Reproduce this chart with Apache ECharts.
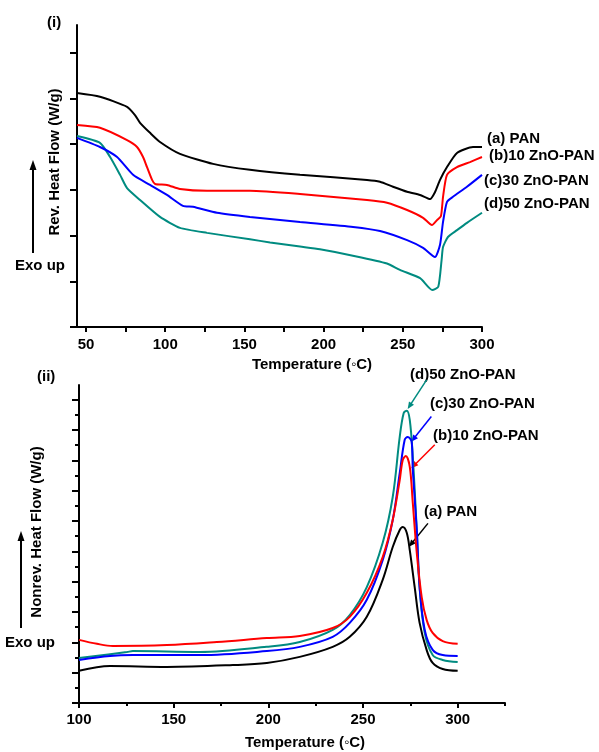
<!DOCTYPE html>
<html><head><meta charset="utf-8">
<script src="https://cdn.jsdelivr.net/npm/echarts@6/dist/echarts.min.js"></script>
<style>html,body{margin:0;padding:0;background:#fff}#c{width:599px;height:752px}</style>
</head><body><div id="c"></div>
<script>
// ---------- data ----------
const seriesNames = ['(a) PAN', '(b)10 ZnO-PAN', '(c)30 ZnO-PAN', '(d)50 ZnO-PAN'];
const colors = ['#000000', '#ff0000', '#0000ff', '#008b80'];

// Panel (i): reversing heat flow (arbitrary units)
const revT_a = [44.3,58.8,75.9,80.9,84.1,90.4,96.7,109.3,130.2,153.5,185.1,227.4,235.6,243.8,252.7,260.9,267.2,270.3,273.5,277.9,284.2,294.3,300];
const revV_a = [5.12,5.04,4.82,4.64,4.47,4.25,4.05,3.79,3.57,3.44,3.33,3.22,3.18,3.07,2.96,2.89,2.80,2.95,3.22,3.50,3.81,3.94,3.94];
const revT_b = [44.3,58.8,75.9,82.2,86.0,88.5,91.7,93.6,101.1,109.3,126.4,153.5,185.1,227.4,240.0,252.7,262.8,268.4,271.6,274.1,275.4,277.9,284.2,292.4,300];
const revV_b = [4.42,4.36,4.09,3.94,3.72,3.50,3.22,3.13,3.11,3.02,2.98,2.98,2.91,2.78,2.72,2.56,2.39,2.23,2.34,2.43,2.85,3.33,3.50,3.61,3.72];
const revT_c = [44.3,58.8,69.6,79.7,90.4,101.1,111.2,117.5,132.7,153.5,185.1,218.6,235.6,252.7,262.8,270.3,273.5,275.4,277.9,281.7,290.5,300];
const revV_c = [4.14,3.94,3.72,3.33,3.11,2.89,2.65,2.63,2.50,2.41,2.30,2.19,2.10,1.90,1.73,1.53,1.80,2.30,2.74,2.85,3.07,3.33];
const revT_d = [44.3,58.8,65.2,71.5,75.9,84.1,96.7,109.3,126.4,153.5,166.2,185.1,197.7,220.0,240.0,248.2,260.9,268.6,272.4,274.5,275.4,278.5,284.2,290.5,300];
const revV_d = [4.18,4.03,3.72,3.33,3.04,2.78,2.41,2.17,2.06,1.92,1.85,1.76,1.70,1.55,1.39,1.25,1.07,0.81,0.88,1.47,1.75,1.97,2.12,2.28,2.50];

// Panel (ii): non-reversing heat flow (arbitrary units)
const nonT_a = [100,116.4,146.4,181.3,199.2,216.6,234,243,252,260.4,265.7,269.4,271,273.1,274.7,277.3,279.9,283.6,286.8,292.1,300];
const nonV_a = [1.06,1.22,1.19,1.25,1.32,1.52,1.85,2.18,2.84,4.06,5.14,5.70,5.80,5.61,5.04,3.82,2.64,1.75,1.32,1.12,1.06];
const nonT_b = [100,109.5,117.9,146.4,172.8,199.2,216.6,234,243,252,260.4,265.7,269.4,271,272.6,274.7,276.3,278.4,281,283.6,286.8,292.1,300];
const nonV_b = [2.08,1.95,1.88,1.91,2.01,2.14,2.21,2.47,2.84,3.63,4.81,6.03,7.35,8.01,8.14,7.78,6.59,4.95,3.49,2.74,2.31,2.04,1.95];
const nonT_c = [100,116.4,128.5,163.9,199.2,216.6,234,243,252,260.4,265.7,269.4,272,273.6,275.7,276.3,278.4,279.9,282.6,286.8,292.1,300];
const nonV_c = [1.42,1.55,1.58,1.58,1.71,1.85,2.18,2.64,3.40,4.71,6.03,7.58,8.67,8.77,8.61,7.68,5.70,3.82,2.41,1.75,1.58,1.55];
const nonT_d = [100,125.3,128.5,163.9,199.2,216.6,234,243,252,260.4,265.7,269.4,271.5,273.1,274.7,276.3,278.4,279.9,282.6,286.8,292.1,300];
const nonV_d = [1.48,1.68,1.71,1.68,1.85,2.01,2.41,2.90,3.82,5.28,6.79,8.77,9.56,9.63,9.33,8.11,5.70,3.82,2.31,1.58,1.42,1.35];

// axis ticks / labels
const topXLabels = [50,100,150,200,250,300];
const topXTicks = [50,75,100,125,150,175,200,225,250,275,300];
const topYTicks = [0,1,2,3,4,5,6];
const botXLabels = [100,150,200,250,300];
const botXTicks = [100,150,200,250,300];
const botXMinor = [125,175,225,275,325];
const botYTicks = [0,1,2,3,4,5,6,7,8,9,10];
const botYMinor = [0.5,1.5,2.5,3.5,4.5,5.5,6.5,7.5,8.5,9.5];

// annotation arrows in panel (ii): [fromT, fromV, toT, toV]
const botArrows = [
  [284.3,5.92,274.3,5.15],
  [287.9,8.51,275.5,7.74],
  [286.1,9.44,275.5,8.61],
  [283.6,10.65,273.6,9.69]
];

// ---------- chart ----------
const FONT = "'Liberation Sans', Arial, sans-serif";
const zip = (a,b) => a.map((t,i)=>[t,b[i]]);
const chart = echarts.init(document.getElementById('c'), null, {renderer:'canvas'});

const axisLineStyle = {show:true, onZero:false, lineStyle:{color:'#000', width:2}};
function xAxis(grid, min, max, labels, ticks, len, showLine, margin) {
  return {
    type:'value', gridIndex:grid, min:min, max:max, position:'bottom',
    axisLine: showLine ? axisLineStyle : {show:false},
    axisTick:{show:true, inside:false, length:len, customValues:ticks, lineStyle:{color:'#000', width:2}},
    axisLabel: labels ? {show:true, customValues:labels, margin:margin, color:'#000', fontFamily:FONT, fontWeight:'bold', fontSize:15} : {show:false},
    splitLine:{show:false}
  };
}
function yAxis(grid, max, ticks, len, showLine) {
  return {
    type:'value', gridIndex:grid, min:0, max:max, position:'left',
    axisLine: showLine ? axisLineStyle : {show:false},
    axisTick:{show:true, inside:false, length:len, customValues:ticks, lineStyle:{color:'#000', width:2}},
    axisLabel:{show:false},
    splitLine:{show:false}
  };
}

const series = [];
const revT = [revT_a, revT_b, revT_c, revT_d], revV = [revV_a, revV_b, revV_c, revV_d];
const nonT = [nonT_a, nonT_b, nonT_c, nonT_d], nonV = [nonV_a, nonV_b, nonV_c, nonV_d];
for (let i = 0; i < 4; i++) {
  series.push({type:'line', name:seriesNames[i], xAxisIndex:0, yAxisIndex:0, data:zip(revT[i], revV[i]),
    showSymbol:false, smooth:0.2, lineStyle:{color:colors[i], width:2}, itemStyle:{color:colors[i]}, z:5-i});
}
for (let i = 0; i < 4; i++) {
  series.push({type:'line', name:seriesNames[i], xAxisIndex:2, yAxisIndex:2, data:zip(nonT[i], nonV[i]),
    showSymbol:false, smooth:0.35, lineStyle:{color:colors[i], width:2}, itemStyle:{color:colors[i]}, z:5-i});
}

const baseText = {fontFamily:FONT, fontWeight:'bold', fontSize:15, fill:'#000'};
function txt(x, y, s, extra) {
  return {type:'text', x:x, y:y, style:Object.assign({}, baseText, {text:s, align:'left', verticalAlign:'middle'}, extra||{})};
}
function vtxt(x, y, s) {
  return {type:'text', x:x, y:y, rotation:Math.PI/2, style:Object.assign({}, baseText, {text:s, align:'center', verticalAlign:'middle'})};
}
function arrow(x1, y1, x2, y2, color, w, hl, hw) {
  const dx = x2-x1, dy = y2-y1, L = Math.hypot(dx,dy), ux = dx/L, uy = dy/L;
  const bx = x2-ux*hl, by = y2-uy*hl;
  return [
    {type:'line', shape:{x1:x1, y1:y1, x2:bx+ux*1, y2:by+uy*1}, style:{stroke:color, lineWidth:w}},
    {type:'polygon', shape:{points:[[x2,y2],[bx-uy*hw,by+ux*hw],[bx+uy*hw,by-ux*hw]]}, style:{fill:color}}
  ];
}

const option = {
  animation:false,
  backgroundColor:'#fff',
  grid:[
    {left:77, top:25, width:405, height:302, containLabel:false},
    {left:79, top:385, width:426, height:318, containLabel:false}
  ],
  xAxis:[
    xAxis(0, 44.3, 300, topXLabels, topXTicks, 5, true, 10),
    xAxis(1, 100, 325, botXLabels, botXTicks, 5, true, 9),
    xAxis(1, 100, 325, null, botXMinor, 3, false, 9)
  ],
  yAxis:[
    yAxis(0, 6.61, topYTicks, 7, true),
    yAxis(1, 10.48, botYTicks, 7, true),
    yAxis(1, 10.48, [], 0, false),
    yAxis(1, 10.48, botYMinor, 4, false)
  ],
  series:series
};
// series in panel ii use xAxisIndex 2? keep them on axis 1 for clarity
option.series.forEach(s => { if (s.xAxisIndex === 2) { s.xAxisIndex = 1; s.yAxisIndex = 1; } });
chart.setOption(option);

const g = [];
g.push(txt(47, 23, '(i)'));
g.push(txt(37, 377, '(ii)'));
g.push(vtxt(55, 162, 'Rev. Heat Flow (W/g)'));
g.push(vtxt(37, 532, 'Nonrev. Heat Flow (W/g)'));
g.push(txt(15, 266, 'Exo up'));
g.push(txt(5, 643, 'Exo up'));
g.push(...arrow(33, 253, 33, 160, '#000', 2, 10, 3.5));
g.push(...arrow(21, 628, 21, 531, '#000', 2, 10, 3.5));
g.push(txt(312, 365, 'Temperature (\u25E6C)', {align:'center'}));
g.push(txt(305, 743, 'Temperature (\u25E6C)', {align:'center'}));
// panel (i) labels
g.push(txt(487, 139, seriesNames[0]));
g.push(txt(489, 156, seriesNames[1]));
g.push(txt(484, 181, seriesNames[2]));
g.push(txt(484, 204, seriesNames[3]));
// panel (ii) labels
g.push(txt(424, 512, seriesNames[0]));
g.push(txt(433, 436, seriesNames[1]));
g.push(txt(430, 404, seriesNames[2]));
g.push(txt(410, 375, seriesNames[3]));
botArrows.forEach((a, i) => {
  const p1 = chart.convertToPixel({xAxisIndex:1, yAxisIndex:1}, [a[0], a[1]]);
  const p2 = chart.convertToPixel({xAxisIndex:1, yAxisIndex:1}, [a[2], a[3]]);
  g.push(...arrow(p1[0], p1[1], p2[0], p2[1], colors[i], 1.5, 7, 3));
});
chart.setOption({graphic:{elements:g}});
</script></body></html>
